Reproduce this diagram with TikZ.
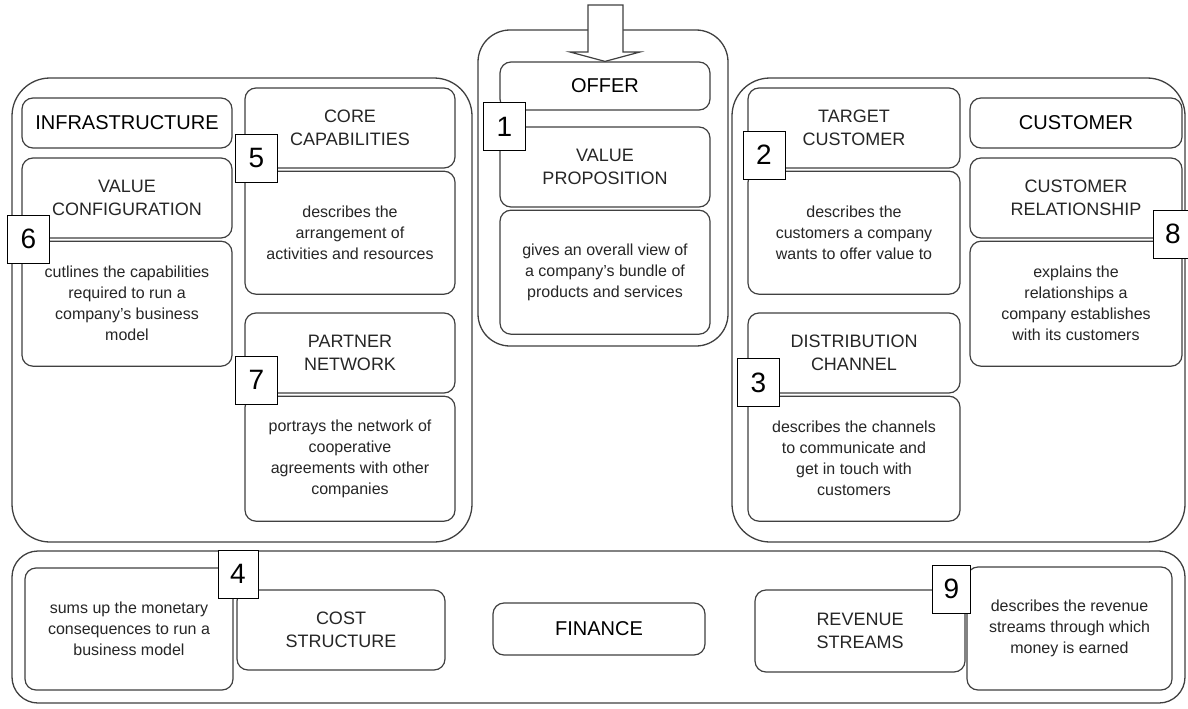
\documentclass[tikz,border=0pt]{standalone}
\usepackage{fontspec}
\setmainfont{Liberation Sans}
\usetikzlibrary{positioning}

\begin{document}
\begin{tikzpicture}[x=1pt,y=-1pt,
    node distance=2pt,
    grp/.style={draw=black!75,line width=1.3pt,rounded corners=38pt,
                inner sep=0pt},
    box/.style={draw=black!75,line width=1.2pt,rounded corners=11pt,
                fill=white,align=center,inner sep=2pt,text=black!85},
    head/.style={box,minimum width=210pt,minimum height=50pt,text=black,
                 font=\fontsize{20}{24}\selectfont},
    ttl/.style={box,minimum width=210pt,minimum height=80pt,
                font=\fontsize{18}{23}\selectfont},
    desc/.style={box,minimum width=210pt,minimum height=124pt,
                 font=\fontsize{16}{21}\selectfont},
    badge/.style={draw=black,line width=1pt,fill=white,minimum width=42pt,
                  minimum height=48pt,inner sep=0pt,
                  font=\fontsize{28}{28}\selectfont},
  ]
  \useasboundingbox (0,0) rectangle (1188,709);
  \fill[white] (0,0) rectangle (1188,709);

  % groups
  \node[grp,minimum width=460pt,minimum height=464pt](infra) at (242,310){};
  \node[grp,minimum width=250pt,minimum height=316pt,rounded corners=32pt](offer) at (603,188){};
  \node[grp,minimum width=453pt,minimum height=464pt](cust) at (958.5,310){};
  \node[grp,minimum width=1173pt,minimum height=152pt,rounded corners=26pt](fin) at (598.5,627){};

  % infrastructure
  \node[head](infh) at (127,123){INFRASTRUCTURE};
  \node[ttl](vc) at (127,198){VALUE\\CONFIGURATION};
  \node[desc,minimum height=125pt,below=of vc](vcd){cutlines the capabilities\\required to run a\\company's business\\model};
  \node[ttl](cc) at (350,128){CORE\\CAPABILITIES};
  \node[desc,minimum height=123pt,below=of cc](ccd){describes the\\arrangement of\\activities and resources};
  \node[ttl](pn) at (350,353){PARTNER\\NETWORK};
  \node[desc,minimum height=125pt,below=of pn](pnd){portrays the network of\\cooperative\\agreements with other\\companies};

  % offer
  \node[head,minimum height=48pt](ofh) at (605,86){OFFER};
  \node[ttl](vp) at (605,167){VALUE\\PROPOSITION};
  \node[desc,below=of vp](vpd){gives an overall view of\\a company's bundle of\\products and services};
  \draw[line width=1.2pt,draw=black!75,fill=white]
    (588,5) -- (623,5) -- (623,52) -- (640,52) -- (ofh.north) -- (570,52) -- (588,52) -- cycle;

  % customer
  \node[ttl,minimum width=212pt](tc) at (854,128){TARGET\\CUSTOMER};
  \node[desc,minimum width=212pt,minimum height=123pt,below=of tc](tcd){describes the\\customers a company\\wants to offer value to};
  \node[ttl,minimum width=212pt](dc) at (854,353){DISTRIBUTION\\CHANNEL};
  \node[desc,minimum width=212pt,minimum height=125pt,below=of dc](dcd){describes the channels\\to communicate and\\get in touch with\\customers};
  \node[head,minimum width=212pt](cuh) at (1076,123){CUSTOMER};
  \node[ttl,minimum width=212pt](cr) at (1076,198){CUSTOMER\\RELATIONSHIP};
  \node[desc,minimum width=212pt,minimum height=125pt,below=of cr](crd){explains the\\relationships a\\company establishes\\with its customers};

  % finance
  \node[desc,minimum width=208pt,minimum height=122pt](csd) at (129,629){sums up the monetary\\consequences to run a\\business model};
  \node[ttl,minimum width=208pt](cs) at (341,630){COST\\STRUCTURE};
  \node[head,minimum width=212pt,minimum height=52pt](finh) at (599,629){FINANCE};
  \node[ttl,minimum height=82pt](rs) at (860,631){REVENUE\\STREAMS};
  \node[desc,minimum width=205pt,minimum height=123pt](rsd) at (1069.5,628.5){describes the revenue\\streams through which\\money is earned};

  % numbers
  \node[badge](b1) at (504.5,126.5){1};
  \node[badge](b2) at (764,155){2};
  \node[badge](b3) at (758.5,382.5){3};
  \node[badge,minimum width=40pt](b4) at (238,574){4};
  \node[badge](b5) at (256.5,158){5};
  \node[badge](b6) at (28.5,239){6};
  \node[badge](b7) at (256.5,380){7};
  \node[badge,minimum width=40pt](b8) at (1173,234){8};
  \node[badge,minimum width=38pt](b9) at (951.5,589){9};
\end{tikzpicture}
\end{document}
